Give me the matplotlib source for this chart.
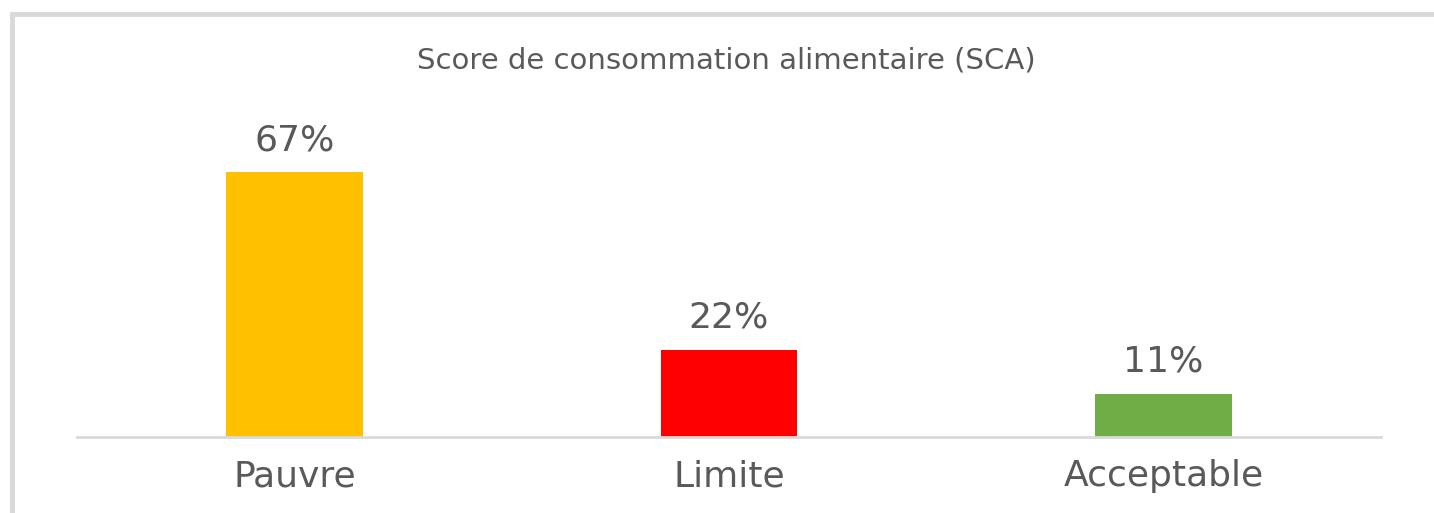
import matplotlib.pyplot as plt
from matplotlib.patches import Rectangle

categories = ['Pauvre', 'Limite', 'Acceptable']
values = [67, 22, 11]
colors = ['#FFC000', '#FF0000', '#70AD47']
title = 'Score de consommation alimentaire (SCA)'

W, H = 1434, 513
text_color = '#595959'
grid_color = '#D9D9D9'

plt.rcParams['font.family'] = ['DejaVu Sans']

fig = plt.figure(figsize=(W / 100, H / 100), dpi=100)

# chart frame (only top and left edges are visible in the crop)
fig.patches.append(Rectangle((11.5 / W, -0.1), 1.2, (H - 13.5) / H + 0.1,
                             transform=fig.transFigure, fill=False,
                             edgecolor=grid_color, linewidth=3.5))

ax = fig.add_axes([77 / W, 76 / H, (1381 - 77) / W, (437 - 121) / H])
x = range(len(categories))
bars = ax.bar(x, values, width=0.315, color=colors)
ax.set_xlim(-0.5, 2.5)
ax.set_ylim(0, 80)

for side in ['right', 'left', 'top']:
    ax.spines[side].set_visible(False)
ax.spines['bottom'].set_color(grid_color)
ax.spines['bottom'].set_linewidth(2)
ax.set_yticks([])
ax.set_xticks(list(x))
ax.set_xticklabels(categories, fontsize=26, color=text_color)
ax.tick_params(axis='x', length=0, pad=16)

for b, v in zip(bars, values):
    ax.annotate('{}%'.format(v), (b.get_x() + b.get_width() / 2, v),
                xytext=(0, 11), textcoords='offset points',
                ha='center', va='bottom', fontsize=26, color=text_color)

fig.text(726 / W, 1 - 60 / H, title, ha='center', va='center',
         fontsize=21, color=text_color)

fig.savefig('out.png', dpi=100)
